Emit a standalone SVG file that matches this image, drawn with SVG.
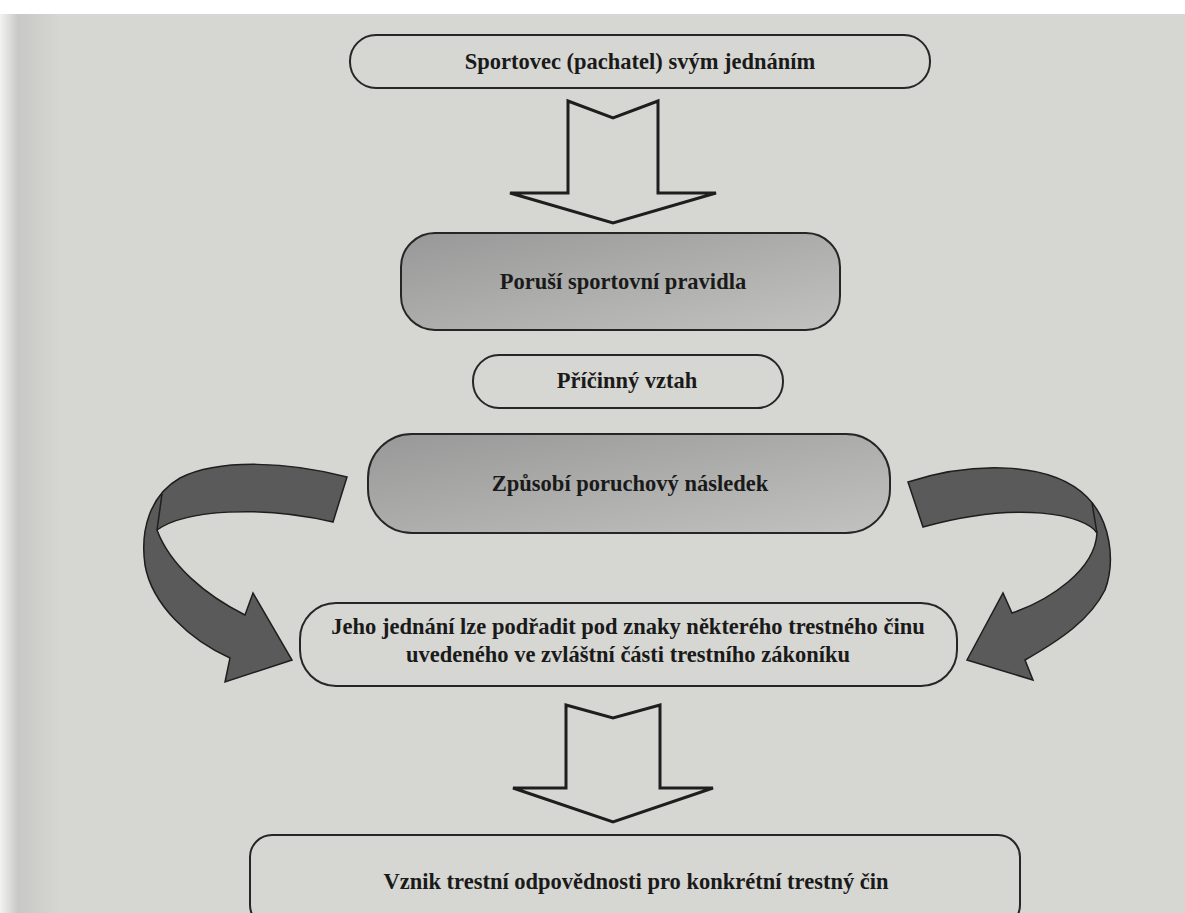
<svg xmlns="http://www.w3.org/2000/svg" width="1185" height="913" viewBox="0 0 1185 913">
<defs>
<linearGradient id="gray" x1="0" y1="0" x2="1" y2="1">
<stop offset="0" stop-color="#989898"/>
<stop offset="1" stop-color="#c2c2c0"/>
</linearGradient>
<linearGradient id="edge" x1="0" y1="0" x2="1" y2="0">
<stop offset="0" stop-color="#f2f2f0"/>
<stop offset="0.3" stop-color="#c8c8c6"/>
<stop offset="1" stop-color="#d6d6d2"/>
</linearGradient>
<style>
.box{stroke:#262626;stroke-width:2;fill:none}
.fill{fill:url(#gray)}
.blk{fill:none;stroke:#1e1e1e;stroke-width:3;stroke-linejoin:miter}
.curv{fill:#5a5a5a;stroke:#1e1e1e;stroke-width:1.5}
.crease{fill:none;stroke:#1e1e1e;stroke-width:1.5}
.t{font-family:"Liberation Serif","Times New Roman",serif;font-weight:bold;font-size:22.5px;fill:#1a1a1a;text-anchor:middle}
</style>
</defs>
<rect x="0" y="0" width="1185" height="913" fill="#d6d6d2"/>
<rect x="0" y="0" width="60" height="913" fill="url(#edge)"/>
<rect x="0" y="0" width="1185" height="14" fill="#ffffff"/>
<g id="connectors">
<polygon class="blk" points="568,101 613,118 658,101 658,193 716,193 613,223 510,193 568,193"/>
<polygon class="blk" points="566,705 613,718 660,705 660,788 713,788 613,822 513,788 566,788"/>
<path class="curv" d="M347,477 C290,462 220,458 180,478 C150,495 140,530 145,565 C152,605 190,640 230,658 L225,682 L292,660 L253,593 L245,615 C205,595 170,565 157,530 C185,510 260,505 333,522 Z"/>
<path class="crease" d="M162,494 L157,530"/>
<path class="curv" d="M908,482 C970,462 1050,460 1087,497 C1110,520 1116,560 1105,590 C1090,620 1060,640 1025,660 L1033,680 L967,660 L1003,593 L1012,613 C1050,600 1095,570 1097,533 C1085,515 1020,500 923,527 Z"/>
<path class="crease" d="M1092,503 L1097,533"/>
</g>
<g id="n1">
<rect class="box" x="350" y="35" width="580" height="53" rx="26"/>
<text class="t" x="640" y="69">Sportovec (pachatel) svým jednáním</text>
</g>
<g id="n2">
<rect class="box fill" x="401" y="233" width="439" height="97" rx="34"/>
<text class="t" x="623" y="289">Poruší sportovní pravidla</text>
</g>
<g id="n3">
<rect class="box" x="473" y="355" width="310" height="53" rx="26"/>
<text class="t" x="627" y="388">Příčinný vztah</text>
</g>
<g id="n4">
<rect class="box fill" x="368" y="434" width="522" height="99" rx="44"/>
<text class="t" x="630" y="491">Způsobí poruchový následek</text>
</g>
<g id="n5">
<rect class="box" x="300" y="603" width="657" height="83" rx="36"/>
<text class="t" x="628" y="634">Jeho jednání lze podřadit pod znaky některého trestného činu</text>
<text class="t" x="628" y="662">uvedeného ve zvláštní části trestního zákoníku</text>
</g>
<g id="n6">
<rect class="box" x="250" y="835" width="770" height="92" rx="22"/>
<text class="t" x="636" y="889">Vznik trestní odpovědnosti pro konkrétní trestný čin</text>
</g>
</svg>
